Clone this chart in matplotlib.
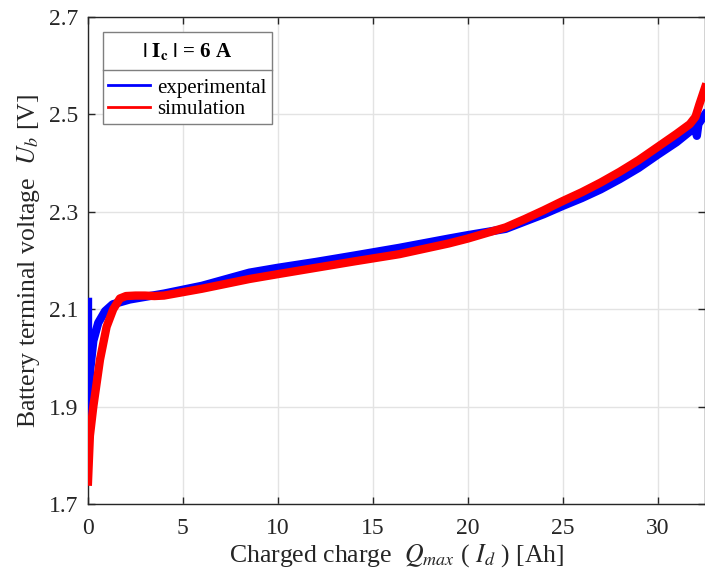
import matplotlib
matplotlib.use("Agg")
import matplotlib.pyplot as plt
from matplotlib.lines import Line2D
from matplotlib.patches import Rectangle

plt.rcParams['font.family'] = ['Liberation Serif', 'DejaVu Serif']
plt.rcParams['mathtext.fontset'] = 'stix'

# experimental (blue)
exp_q = [0.0, 0.0, 0.05, 0.1, 0.28, 0.54, 0.9, 1.3, 2.2, 4.0, 6.0, 8.5, 10.0, 12.0,
         14.0, 16.4, 19.0, 20.0, 22.0, 23.0, 24.0, 25.0, 26.0, 27.0, 28.0, 29.0,
         30.0, 31.0, 31.7, 32.0, 32.07, 32.15, 32.5]
exp_u = [2.115, 1.826, 1.92, 1.97, 2.035, 2.072, 2.096, 2.11, 2.12, 2.132, 2.148,
         2.175, 2.185, 2.197, 2.21, 2.226, 2.245, 2.252, 2.265, 2.28, 2.295, 2.312,
         2.328, 2.346, 2.367, 2.39, 2.417, 2.443, 2.465, 2.472, 2.456, 2.48, 2.50]

# simulation (red)
sim_q = [0.0, 0.1, 0.28, 0.63, 0.98, 1.33, 1.68, 2.0, 2.5, 3.0, 3.5, 4.0, 5.0, 6.0,
         8.5, 10.0, 12.0, 14.0, 16.4, 19.0, 20.0, 22.0, 23.0, 24.0, 25.0, 26.0,
         27.0, 28.0, 29.0, 30.0, 31.0, 31.7, 32.0, 32.2, 32.5]
sim_u = [1.746, 1.84, 1.90, 1.996, 2.064, 2.10, 2.122, 2.127, 2.128, 2.128, 2.127,
         2.128, 2.135, 2.142, 2.162, 2.172, 2.185, 2.198, 2.213, 2.235, 2.245, 2.268,
         2.285, 2.303, 2.322, 2.34, 2.36, 2.382, 2.406, 2.433, 2.46, 2.48, 2.495,
         2.52, 2.555]

xticks = [0, 5, 10, 15, 20, 25, 30]
yticks = [1.7, 1.9, 2.1, 2.3, 2.5, 2.7]
legend_title = r'$\mathbf{|\ I_c\ |}$ = 6 A'
legend_labels = ['experimental', 'simulation']

fig = plt.figure(figsize=(7.05, 5.77), dpi=100)
ax = fig.add_axes([88/705, 1-504/577, 617/705, 487/577])

ax.plot(exp_q, exp_u, color='#0000ff', lw=6.0, zorder=3)
ax.plot(sim_q, sim_u, color='#ff0000', lw=6.0, zorder=4)

ax.set_xlim(0, 32.5)
ax.set_ylim(1.7, 2.7)
ax.set_xticks(xticks)
ax.set_yticks(yticks)
ax.set_xticklabels([str(t) for t in xticks])
ax.set_yticklabels(['%.1f' % t for t in yticks])
ax.grid(True, color='#e3e3e3', lw=1.0)
ax.set_axisbelow(True)
ax.tick_params(direction='in', top=True, right=True, length=5, width=1,
               colors='#262626', labelsize=17, labelcolor='#262626')
ax.tick_params(axis='x', pad=10)
ax.tick_params(axis='y', pad=7)
for s in ax.spines.values():
    s.set_color('#262626')
    s.set_linewidth(1.0)

ax.set_xlabel(r'Charged charge  $Q_{max}$ ( $I_d$ ) [Ah]', fontsize=18.5, color='#262626', labelpad=2)
ax.set_ylabel(r'Battery terminal voltage  $U_b$ [V]', fontsize=18.5, color='#262626', labelpad=5)

# legend box with title compartment
def px2ax(px, py):
    return (px - 88) / 617, (504 - py) / 487

x0, y0 = px2ax(102.7, 124)
x1, y1 = px2ax(272, 32)
ax.add_patch(Rectangle((x0, y0), x1 - x0, y1 - y0, transform=ax.transAxes,
                       facecolor='white', edgecolor='#7f7f7f', lw=1.0, zorder=6))
_, ys = px2ax(0, 70)
ax.add_line(Line2D([x0, x1], [ys, ys], transform=ax.transAxes, color='#7f7f7f', lw=1.0, zorder=7))
tx, ty = px2ax(187, 51)
ax.text(tx, ty, legend_title, transform=ax.transAxes, ha='center', va='center',
        fontsize=15, fontweight='bold', color='black', zorder=8)

handles = [Line2D([], [], color='#0000ff', lw=2),
           Line2D([], [], color='#ff0000', lw=2)]
lx, ly = px2ax(108, 78)
leg = ax.legend(handles, legend_labels, loc='upper left', bbox_to_anchor=(lx, ly),
                borderaxespad=0, borderpad=0, frameon=False, fontsize=15,
                handlelength=2.0, handletextpad=0.35, labelspacing=0.08)
leg.set_zorder(9)

fig.savefig('out.png', dpi=100)
